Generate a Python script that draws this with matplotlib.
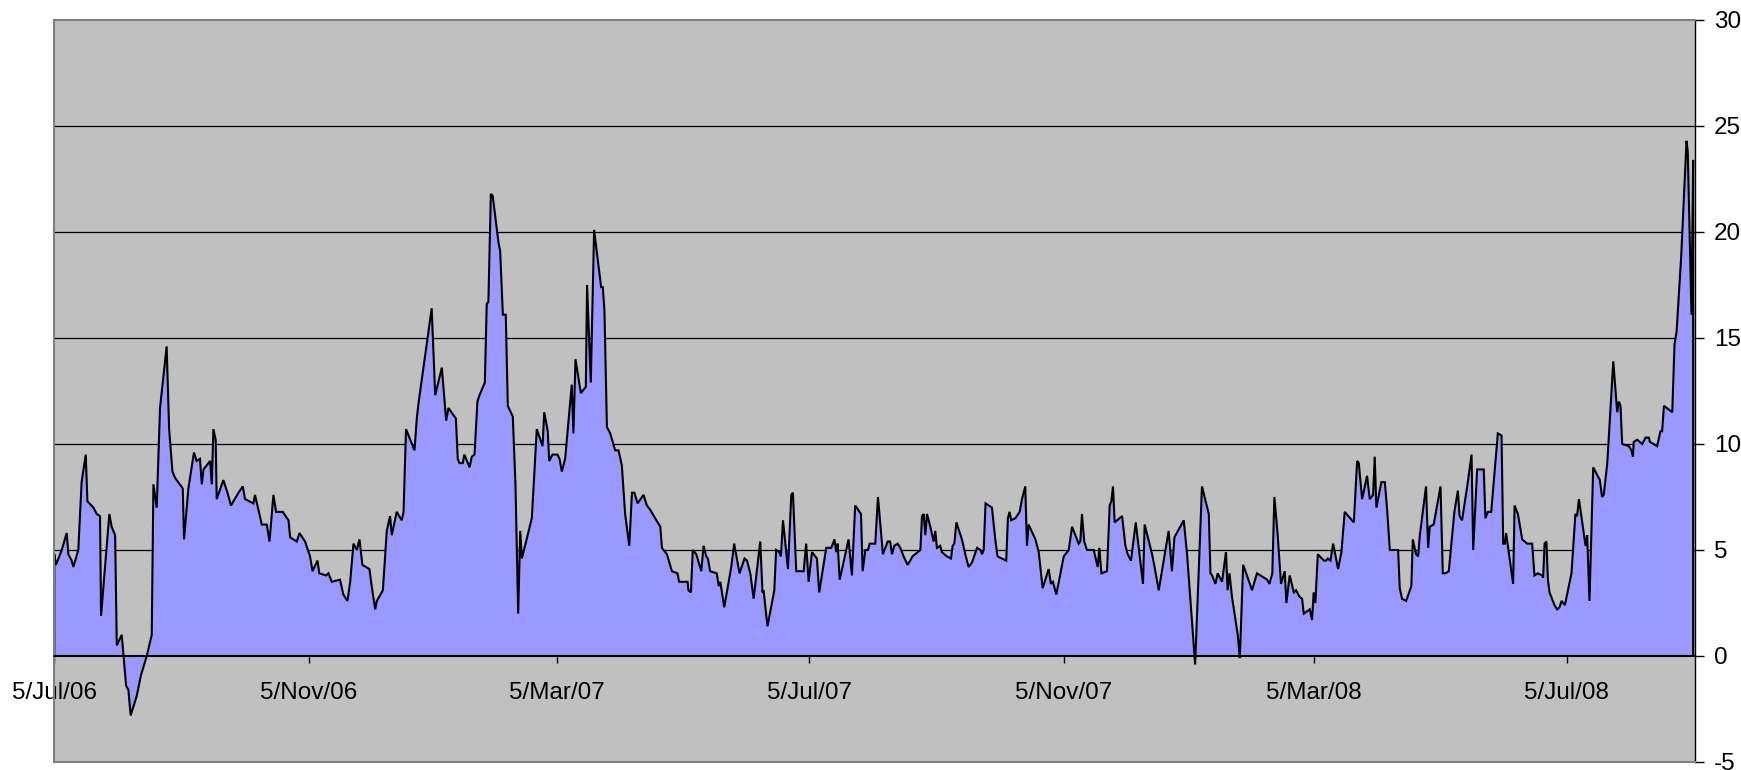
import datetime as dt
import matplotlib
matplotlib.use("Agg")
import matplotlib.pyplot as plt
import matplotlib.dates as mdates

plt.rcParams['font.family'] = ['Liberation Sans', 'DejaVu Sans']

START = "2006-07-05"
END = "2008-09-05"

# day offsets from START and the series values
days = [
    0.0, 0.8, 3.6, 6.0, 6.8, 8.4, 9.2, 11.6, 13.2, 15.2, 16.0, 18.9, 20.5, 22.1, 22.6,
    26.6, 27.7, 29.4, 30.2, 32.6, 34.7, 35.8, 36.9, 39.8, 41.9, 44.7, 47.1, 47.9, 49.5,
    51.1, 54.3, 55.5, 57.1, 58.4, 62.1, 62.7, 64.8, 67.5, 68.8, 70.4, 71.3, 72.1, 75.3,
    76.1, 76.9, 78.0, 78.5, 81.7, 83.7, 85.4, 89.0, 91.1, 92.2, 96.2, 97.0, 100.3, 102.7,
    104.0, 105.9, 107.2, 110.4, 113.2, 114.0, 117.2, 118.5, 121.2, 123.6, 124.8, 127.2,
    128.1, 131.4, 132.5,
    134.1, 138.1, 139.7, 141.7, 143.0, 144.6, 146.2, 147.5, 148.9, 152.3, 153.4, 155.1,
    155.9, 158.8, 160.7, 162.3, 163.1, 165.5, 167.9, 168.8, 170.0, 174.1, 175.2, 176.0,
    182.4, 184.1, 187.3, 189.4, 190.5, 194.1, 195.0, 195.8, 197.4, 198.2, 200.7, 201.8,
    203.1, 204.5, 205.5, 208.1, 209.0, 209.8, 211.0, 211.9, 214.7, 215.5, 216.8, 218.2,
    219.2, 221.6, 222.9, 224.2, 225.2, 226.0, 230.8, 233.2, 236.0, 236.8, 238.5, 239.2,
    240.8, 243.2, 244.2, 245.3, 246.9, 250.1, 250.9, 251.9, 254.5, 256.9, 257.5, 259.3,
    260.9, 264.3, 265.1, 265.9, 267.1, 268.7,
    271.1, 272.7, 274.3, 275.9, 277.9, 279.2, 280.4, 281.9, 284.8, 286.4, 288.0, 290.4,
    292.9, 293.7, 296.1, 298.5, 301.2, 302.0, 306.1, 306.5, 307.7, 308.6, 310.3, 312.7,
    313.8, 315.1, 315.9, 317.0, 320.2, 321.1, 321.9, 323.8, 327.2, 328.6, 331.2, 333.6,
    334.8, 336.4, 338.0, 341.2, 342.3, 342.8, 344.7, 348.0, 348.9, 350.4, 351.2, 352.2,
    354.6, 356.2, 357.0, 358.6, 362.2, 363.4, 364.6, 366.2, 368.6, 369.7, 373.1, 375.5,
    377.1, 377.9, 378.6, 379.6, 383.9, 385.5, 387.1, 389.9, 390.7, 392.0, 393.3, 394.1,
    396.8, 398.1, 400.5, 402.8,
    404.0, 404.9, 406.0, 407.6, 408.9, 410.5, 412.4, 413.7, 414.8, 416.1, 418.6, 419.4,
    420.2, 421.0, 421.8, 423.4, 425.0, 425.8, 426.6, 428.2, 429.0, 431.4, 433.4, 434.2,
    435.0, 436.0, 438.7, 440.3, 441.9, 443.5, 446.0, 447.6, 448.4, 449.2, 450.1, 453.2,
    454.8, 455.9, 458.0, 460.1, 460.9, 461.7, 462.5, 464.5, 466.6, 467.7, 469.3, 470.1,
    470.9, 474.2, 475.8, 477.7, 480.6, 481.7, 482.7, 484.3, 487.9, 490.3, 491.9, 495.1,
    495.9, 496.7, 497.8, 499.1, 502.4, 504.3, 505.1, 506.1, 508.8, 510.1, 510.9, 511.7,
    512.5, 516.1, 517.7, 518.8, 520.4, 522.7, 526.2, 527.0, 530.6, 531.8, 533.8, 538.6,
    540.2, 541.4, 545.9, 547.5, 551.4, 554.7, 558.0, 558.8, 559.6, 561.2, 562.3, 564.4,
    566.3, 567.1, 568.0, 569.2, 572.0, 573.0, 574.6, 576.8, 578.9, 581.3, 586.2, 587.3,
    588.7, 589.7, 591.3, 592.9, 594.7, 595.5, 597.1, 599.1, 600.2, 601.8, 603.1, 603.9,
    606.8, 607.9, 608.7, 609.5, 610.7, 613.6, 614.7, 615.5, 616.8, 618.1, 620.5, 622.1,
    623.7, 628.1, 629.7, 630.5, 632.1, 634.5, 635.8, 637.4, 638.2, 639.0, 641.4, 643.1,
    644.2, 645.5, 649.5, 650.3, 651.4, 653.4, 655.9, 656.6, 658.2, 659.2, 660.0, 663.0,
    664.0, 664.8, 666.7, 670.0, 671.1, 672.4, 674.0,
    676.7, 678.4, 679.2, 680.4, 682.9, 685.0, 685.8, 687.7, 690.9, 691.7, 692.9, 694.5,
    697.7, 699.5, 700.3, 701.1, 701.7, 705.1, 705.8, 707.4, 709.5, 711.9, 714.3, 715.4,
    717.0, 719.1, 719.6, 720.3, 721.2, 721.9, 722.7, 725.1, 726.4, 727.5, 728.5, 730.1,
    733.3, 735.2, 736.0, 736.9, 740.1, 740.9, 742.0, 743.8, 747.0, 748.1, 748.9, 750.6,
    753.5, 755.4, 756.2, 757.0, 757.8, 761.0, 762.3, 763.0, 763.4, 765.1, 767.5, 769.1,
    770.7, 771.2, 774.7, 776.3, 777.1, 778.0, 782.0, 783.1, 784.1, 786.3, 788.9, 789.5,
    791.3, 792.1,
]
values = [
    4.8, 4.3, 5.0, 5.8, 4.8, 4.5, 4.2, 5.0, 8.2, 9.5, 7.3, 7.0, 6.7, 6.6, 1.9,
    6.7, 6.1, 5.7, 0.5, 1.0, -1.4, -1.6, -2.8, -1.9, -0.9, 0.0, 1.0, 8.1, 7.0,
    11.7, 14.6, 10.7, 8.7, 8.4, 7.9, 5.5, 7.9, 9.6, 9.2, 9.3, 8.1, 8.8, 9.2,
    8.1, 10.7, 10.2, 7.4, 8.3, 7.7, 7.1, 7.7, 8.0, 7.4, 7.2, 7.6, 6.2, 6.2,
    5.4, 7.6, 6.8, 6.8, 6.4, 5.6, 5.4, 5.8, 5.4, 4.7, 4.0, 4.5,
    3.9, 3.8, 3.9,
    3.5, 3.6, 2.9, 2.6, 3.5, 5.3, 5.0, 5.5, 4.3, 4.1, 3.3, 2.2,
    2.6, 3.1, 5.9, 6.6, 5.7, 6.8, 6.4, 6.8, 10.7, 9.7, 11.2, 11.9,
    16.4, 12.3, 13.6, 11.1, 11.7, 11.2, 9.3, 9.1, 9.1, 9.5, 8.9, 9.4,
    9.5, 12.0, 12.3, 12.9, 16.6, 16.7, 21.8, 21.7, 19.5, 19.1, 16.1, 16.1,
    11.8, 11.3, 8.1, 2.0, 5.9, 4.6, 6.5, 10.7, 9.9, 11.5, 10.6, 9.2,
    9.5, 9.5, 9.3, 8.7, 9.3, 12.8, 10.5, 14.0, 12.4, 12.7, 17.5, 12.9,
    20.1, 17.4, 17.4, 16.3, 10.8, 10.5,
    9.7, 9.7, 9.0, 6.7, 5.2, 7.7, 7.7, 7.2, 7.6, 7.1, 6.9, 6.5,
    6.1, 5.1, 4.8, 4.0, 3.9, 3.5, 3.5, 3.1, 3.0, 5.0, 4.8, 4.0,
    5.2, 4.7, 4.6, 4.0, 3.9, 3.3, 3.5, 2.3, 4.2, 5.3, 3.9, 4.6,
    4.5, 3.9, 2.7, 5.4, 3.0, 3.1, 1.4, 3.1, 5.0, 4.9, 4.7, 6.4,
    4.1, 7.6, 7.7, 4.0, 4.0, 5.3, 3.5, 4.9, 4.6, 3.0, 5.1, 5.1,
    5.5, 4.9, 5.3, 3.6, 5.5, 3.8, 7.1, 6.7, 4.0, 5.0, 5.0, 5.3,
    5.3, 7.5, 4.8, 5.4,
    5.4, 4.8, 5.2, 5.3, 5.1, 4.7, 4.3, 4.5, 4.7, 4.8, 5.0, 6.6,
    6.7, 5.7, 6.7, 6.1, 5.4, 5.9, 5.1, 5.2, 4.9, 4.7, 4.6, 5.2,
    5.3, 6.3, 5.5, 4.8, 4.2, 4.4, 5.1, 5.0, 4.8, 5.0, 7.2, 7.0,
    5.5, 4.7, 4.6, 4.5, 6.5, 6.8, 6.4, 6.5, 6.8, 7.4, 8.0, 5.2,
    6.2, 5.5, 4.9, 3.2, 4.1, 3.4, 3.5, 2.9, 4.7, 5.0, 6.1, 5.3,
    5.4, 6.7, 5.4, 5.0, 5.0, 4.2, 5.1, 3.9, 4.0, 7.1, 7.3, 8.0,
    6.3, 6.6, 5.2, 4.8, 4.5, 6.3, 3.4, 6.2, 4.8, 4.2, 3.1, 5.9,
    4.0, 5.6, 6.4, 4.8, -0.4, 8.0, 6.7, 3.9, 3.8, 3.4, 3.9, 3.5,
    4.9, 3.1, 3.9, 2.8, 1.0, -0.1, 4.3, 3.7, 3.1, 3.9, 3.6, 3.4,
    3.9, 7.5, 5.7, 3.4, 4.0, 2.5, 3.8, 3.0, 3.1, 2.8, 2.7, 2.0,
    2.2, 1.7, 3.0, 2.5, 4.8, 4.5, 4.5, 4.6, 4.5, 5.3, 4.1, 4.9,
    6.8, 6.3, 9.2, 9.1, 7.4, 8.5, 7.4, 7.6, 9.4, 7.0, 8.2, 8.2,
    6.9, 5.0, 5.0, 3.2, 2.7, 2.6, 3.3, 5.5, 4.8, 4.7, 5.7, 8.0,
    5.1, 6.1, 6.2, 8.0, 3.9, 3.9, 4.0,
    6.8, 7.8, 6.6, 6.4, 8.0, 9.5, 5.0, 8.8, 8.8, 6.5, 6.8, 6.8,
    10.5, 10.4, 5.3, 5.3, 5.8, 3.4, 7.1, 6.7, 5.5, 5.3, 5.3, 3.8,
    3.9, 3.8, 3.7, 5.3, 5.4, 3.6, 3.0, 2.4, 2.2, 2.3, 2.6, 2.4,
    3.9, 6.7, 6.6, 7.4, 5.2, 5.7, 2.6, 8.9, 8.3, 7.5, 7.6, 9.1,
    13.9, 11.5, 12.0, 11.8, 10.0, 9.9, 9.7, 9.4, 10.1, 10.2, 10.0, 10.3,
    10.3, 10.1, 9.9, 10.6, 10.6, 11.8, 11.5, 14.7, 15.3, 18.8, 24.3, 23.8,
    16.1, 23.4,
]

tick_dates = ["2006-07-05", "2006-11-05", "2007-03-05", "2007-07-05",
              "2007-11-05", "2008-03-05", "2008-07-05"]
tick_labels = ["5/Jul/06", "5/Nov/06", "5/Mar/07", "5/Jul/07",
               "5/Nov/07", "5/Mar/08", "5/Jul/08"]
y_ticks = [-5, 0, 5, 10, 15, 20, 25, 30]
grid_values = [5, 10, 15, 20, 25]

def dnum(s):
    return mdates.date2num(dt.datetime.fromisoformat(s))

base = dnum(START)
x = [base + d for d in days]

W, H = 1741, 770
fig = plt.figure(figsize=(W / 100, H / 100), dpi=100)
fig.patch.set_facecolor('white')
left, right, top, bottom = 54.3, 1695, 20, 762
ax = fig.add_axes([left / W, 1 - bottom / H, (right - left) / W, (bottom - top) / H])
ax.set_facecolor('#C0C0C0')

for g in grid_values:
    ax.axhline(g, color='black', lw=0.9, zorder=1)

px = [x[0]] + x + [x[-1]]
py = [0] + values + [0]
ax.fill(px, py, facecolor='#9999FF', edgecolor='black', lw=1.5, zorder=2)

ax.set_xlim(base, dnum(END))
ax.set_ylim(-5, 30)

# spines
for s in ('left', 'top'):
    ax.spines[s].set_color('#808080')
    ax.spines[s].set_linewidth(1.5)
ax.spines['right'].set_color('black')
ax.spines['right'].set_linewidth(1.0)
ax.spines['bottom'].set_position(('data', 0))
ax.spines['bottom'].set_color('black')
ax.spines['bottom'].set_linewidth(1.2)
ax.spines['bottom'].set_zorder(3)
ax.plot([0, 1], [0, 0], transform=ax.transAxes, color='#808080', lw=1.5,
        clip_on=False, zorder=3)

ax.yaxis.tick_right()
ax.set_yticks(y_ticks)
ax.set_yticklabels([str(v) for v in y_ticks])
ax.tick_params(axis='y', direction='out', length=6.5, width=1.0, pad=7,
               labelsize=17.5, colors='black', left=False)

ax.set_xticks([dnum(d) for d in tick_dates])
ax.set_xticklabels(tick_labels)
ax.tick_params(axis='x', direction='out', length=5, width=1.0, pad=14,
               labelsize=17.5, colors='black')

fig.savefig("out.png", dpi=100, facecolor='white')
